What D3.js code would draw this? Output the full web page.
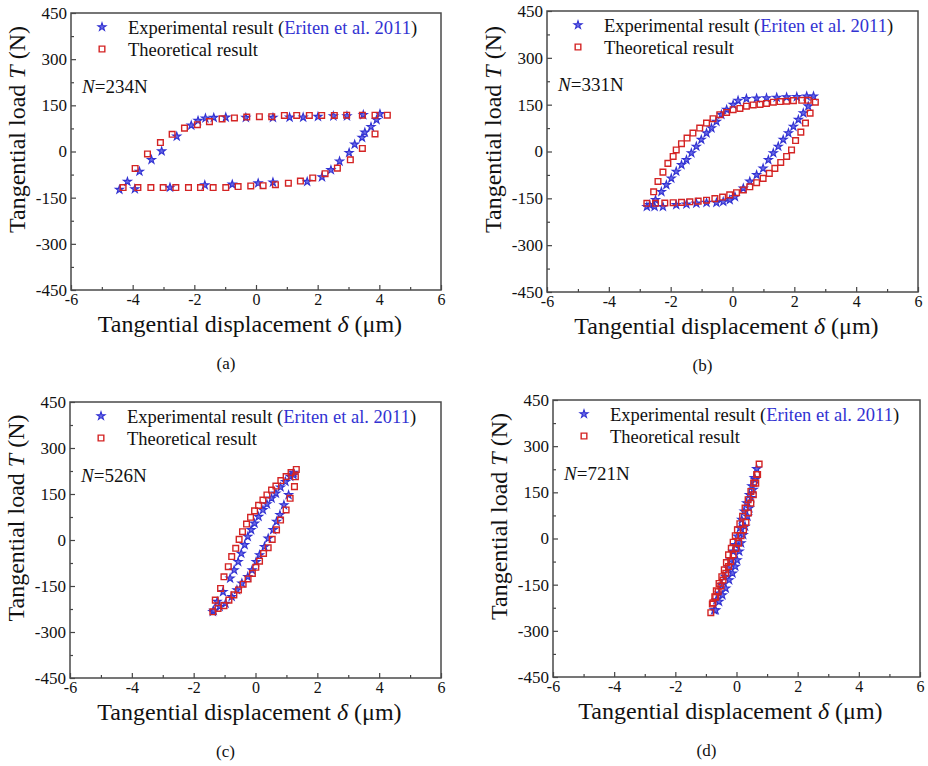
<!DOCTYPE html>
<html>
<head>
<meta charset="utf-8">
<script src="https://cdnjs.cloudflare.com/ajax/libs/d3/7.8.5/d3.min.js"></script>
<style>
body{margin:0;background:#fff;}
text{font-family:"Liberation Serif","Times New Roman",serif;fill:#111;}
</style>
</head>
<body>
<svg id="chart" width="928" height="766"></svg>
<script>
// tick values and labels
var xTicks = [-6,-4,-2,0,2,4,6];
var xMinor = [-5,-3,-1,1,3,5];
var yTicks = [-450,-300,-150,0,150,300,450];
var yMinor = [-375,-225,-75,75,225,375];
var loads = ["234","331","526","721"];
var captions = ["(a)","(b)","(c)","(d)"];

// (a) N=234N
var expA = [[-4.43,-124],[-4.17,-98],[-3.78,-65],[-3.39,-27],[-3.06,1],[-2.57,49],[-2.10,85],[-1.88,100],[-1.64,108],[-1.37,110],[-0.98,111],[-0.33,110],[0.55,110],[1.09,111],[1.53,111],[2.01,113],[2.51,115],[2.95,115],[3.48,119],[4.02,122],
  [3.91,103],[3.73,80],[3.53,62],[3.44,45],[3.20,23],[3.02,-4],[2.71,-32],[2.43,-60],[2.14,-83],[1.66,-98],[0.55,-100],[0.07,-103],[-0.77,-107],[-1.66,-109],[-2.79,-117],[-3.93,-122]];
var theoA = [[-4.31,-117],[-3.83,-117],[-3.41,-117],[-3.01,-117],[-2.60,-117],[-2.19,-117],[-1.80,-117],[-1.39,-117],[-0.98,-117],[-0.58,-114],[-0.17,-112],[0.23,-111],[0.63,-108],[1.05,-103],[1.44,-96],[1.84,-86],[2.24,-72],[2.64,-54],[3.06,-27],[3.45,10],[3.86,57],[4.26,118],
  [3.86,118],[3.45,118],[2.94,118],[2.54,117],[2.13,117],[1.73,117],[1.32,117],[0.92,117],[0.51,113],[0.11,113],[-0.30,112],[-0.70,109],[-1.10,106],[-1.51,97],[-1.90,87],[-2.32,76],[-2.72,56],[-3.10,29],[-3.52,-8],[-3.92,-55]];

// (b) N=331N
var expB = [[-2.77,-177],[-2.52,-177],[-2.25,-177],[-1.82,-171],[-1.49,-169],[-1.17,-166],[-0.84,-164],[-0.52,-164],[-0.30,-161],[-0.09,-155],[0.08,-145],[0.35,-118],[0.56,-96],[0.78,-75],[0.99,-54],[1.16,-27],[1.32,-5],[1.48,16],[1.64,38],[1.81,59],[1.97,80],[2.13,102],[2.29,123],[2.45,145],[2.62,177],
  [2.40,177],[2.08,175],[1.75,174],[1.43,173],[1.10,171],[0.78,170],[0.45,169],[0.18,163],[0.02,150],[-0.19,134],[-0.36,118],[-0.52,96],[-0.68,75],[-0.84,59],[-1.01,38],[-1.17,16],[-1.33,-5],[-1.49,-27],[-1.65,-43],[-1.82,-64],[-1.98,-86],[-2.14,-107],[-2.30,-129],[-2.49,-155],[-2.68,-171]];
var theoB = [[-2.77,-166],[-2.49,-166],[-2.19,-165],[-1.92,-164],[-1.65,-163],[-1.38,-161],[-1.11,-159],[-0.84,-156],[-0.57,-151],[-0.32,-146],[-0.09,-139],[0.13,-132],[0.35,-123],[0.56,-113],[0.78,-100],[0.99,-86],[1.19,-70],[1.37,-54],[1.56,-35],[1.75,-16],[1.91,5],[2.04,35],[2.21,62],[2.36,91],[2.51,123],[2.68,158],
  [2.45,164],[2.24,164],[1.97,163],[1.75,161],[1.54,160],[1.32,158],[1.10,154],[0.89,151],[0.67,149],[0.45,145],[0.24,138],[0.02,134],[-0.19,125],[-0.41,118],[-0.63,105],[-0.84,91],[-1.06,75],[-1.28,59],[-1.47,43],[-1.65,25],[-1.82,5],[-1.92,-16],[-2.09,-38],[-2.25,-66],[-2.41,-96],[-2.55,-129]];

// (c) N=526N
var expC = [[-1.38,-234],[-1.24,-201],[-1.05,-169],[-0.82,-125],[-0.69,-98],[-0.56,-71],[-0.46,-44],[-0.35,-16],[-0.25,11],[-0.14,33],[-0.03,54],[0.10,76],[0.24,98],[0.37,117],[0.52,136],[0.66,152],[0.81,172],[0.97,190],[1.12,207],[1.23,220],
  [1.23,212],[1.07,147],[0.92,114],[0.79,82],[0.68,60],[0.57,33],[0.41,5],[0.29,-22],[0.13,-49],[0.02,-71],[-0.11,-98],[-0.25,-120],[-0.44,-141],[-0.60,-163],[-0.77,-185],[-0.97,-207],[-1.16,-217],[-1.35,-230]];
var theoC = [[-1.38,-234],[-1.30,-196],[-1.13,-158],[-1.02,-120],[-0.88,-87],[-0.77,-54],[-0.64,-27],[-0.53,2],[-0.42,27],[-0.29,52],[-0.16,74],[-0.03,95],[0.10,113],[0.24,130],[0.37,147],[0.52,163],[0.66,176],[0.82,194],[0.99,207],[1.15,220],[1.32,230],
  [1.29,206],[1.26,174],[1.12,136],[0.99,98],[0.81,65],[0.68,33],[0.54,2],[0.41,-25],[0.26,-44],[0.13,-69],[0.01,-89],[-0.10,-109],[-0.24,-127],[-0.40,-144],[-0.55,-163],[-0.70,-179],[-0.86,-196],[-1.02,-214],[-1.21,-223]];

// (d) N=721N
var expD = [[-0.73,-233],[-0.66,-200],[-0.57,-178],[-0.48,-151],[-0.37,-124],[-0.27,-97],[-0.19,-70],[-0.11,-42],[-0.04,-21],[0.03,7],[0.11,34],[0.17,61],[0.25,88],[0.33,115],[0.42,142],[0.50,170],[0.58,197],[0.66,226],
  [0.61,191],[0.55,159],[0.48,132],[0.42,99],[0.36,72],[0.28,39],[0.22,12],[0.15,-15],[0.09,-42],[0.02,-70],[-0.04,-91],[-0.13,-113],[-0.24,-135],[-0.35,-162],[-0.46,-184],[-0.57,-205],[-0.68,-233]];
var theoD = [[-0.84,-241],[-0.79,-213],[-0.71,-189],[-0.66,-170],[-0.57,-146],[-0.48,-124],[-0.40,-102],[-0.33,-78],[-0.26,-53],[-0.17,-32],[-0.11,-12],[-0.04,9],[0.03,28],[0.11,48],[0.20,72],[0.28,99],[0.38,126],[0.47,153],[0.56,180],[0.66,208],[0.74,242],
  [0.69,208],[0.63,180],[0.55,142],[0.47,115],[0.39,83],[0.31,52],[0.23,28],[0.15,9],[0.07,-15],[-0.02,-32],[-0.11,-53],[-0.19,-75],[-0.26,-91],[-0.35,-113],[-0.44,-135],[-0.51,-154],[-0.60,-173],[-0.68,-191],[-0.77,-209]];

var blue = "#3232d2";
var red = "#d42424";

var panels = [
  {x:71, y:13, w:370, h:277, exp:expA, theo:theoA},
  {x:547, y:11, w:371, h:281, exp:expB, theo:theoB},
  {x:70, y:402, w:371, h:276, exp:expC, theo:theoC},
  {x:553, y:400, w:367, h:277, exp:expD, theo:theoD}
];

var svg = d3.select("#chart");
var star = d3.symbol().type(d3.symbolStar).size(20);
var square = d3.symbol().type(d3.symbolSquare).size(32);

var drawPanel = function(p, i)
{
    var g = svg.append("g").attr("transform","translate("+p.x+","+p.y+")");
    var xScale = d3.scaleLinear().domain([-6,6]).range([0,p.w]);
    var yScale = d3.scaleLinear().domain([-450,450]).range([p.h,0]);

    var xAxis = d3.axisBottom(xScale).tickValues(xTicks).tickSize(-5).tickPadding(4)
        .tickFormat(function(d){return String(d);});
    var xAxisMinor = d3.axisBottom(xScale).tickValues(xMinor).tickSize(-3).tickFormat("");
    var yAxis = d3.axisLeft(yScale).tickValues(yTicks).tickSize(-5).tickPadding(4)
        .tickFormat(function(d){return String(d);});
    var yAxisMinor = d3.axisLeft(yScale).tickValues(yMinor).tickSize(-3).tickFormat("");

    [xAxis, xAxisMinor].forEach(function(ax){
        g.append("g").attr("class","axis xax").attr("transform","translate(0,"+p.h+")").call(ax);
    });
    [yAxis, yAxisMinor].forEach(function(ax){
        g.append("g").attr("class","axis").call(ax);
    });
    g.selectAll(".axis .domain").remove();
    g.selectAll(".axis line").attr("stroke","#444").attr("stroke-width",1.2);
    g.selectAll(".axis text").attr("font-size",17).attr("fill","#222");
    g.selectAll(".xax text").attr("font-size",16);

    g.append("rect")
        .attr("width",p.w).attr("height",p.h)
        .attr("fill","none").attr("stroke","#4a4a4a").attr("stroke-width",1.5);

    // experimental stars
    g.append("g").selectAll("path")
        .data(p.exp).enter().append("path")
        .attr("d",star)
        .attr("transform",function(d){return "translate("+xScale(d[0])+","+yScale(d[1])+")";})
        .attr("fill","#6a6ae6").attr("stroke",blue).attr("stroke-width",1.1);

    // theoretical squares
    g.append("g").selectAll("path")
        .data(p.theo).enter().append("path")
        .attr("d",square)
        .attr("transform",function(d){return "translate("+xScale(d[0])+","+yScale(d[1])+")";})
        .attr("fill","none").attr("stroke",red).attr("stroke-width",1.4);

    // legend
    g.append("path").attr("d",star).attr("transform","translate(31,14)")
        .attr("fill","#6a6ae6").attr("stroke",blue).attr("stroke-width",1.1);
    g.append("path").attr("d",square).attr("transform","translate(31,36)")
        .attr("fill","none").attr("stroke",red).attr("stroke-width",1.4);
    var t1 = g.append("text").attr("x",57).attr("y",21).attr("font-size",18.5);
    t1.append("tspan").text("Experimental result (");
    t1.append("tspan").attr("fill",blue).text("Eriten et al. 2011");
    t1.append("tspan").text(")");
    g.append("text").attr("x",57).attr("y",43).attr("font-size",18.5).text("Theoretical result");

    var nl = g.append("text").attr("x",11).attr("y",80).attr("font-size",19);
    nl.append("tspan").attr("font-style","italic").text("N");
    nl.append("tspan").text("="+loads[i]+"N");

    // axis titles
    var yl = g.append("text")
        .attr("text-anchor","middle")
        .attr("transform","translate(-46,"+(p.h/2-22)+") rotate(-90)")
        .attr("font-size",24);
    yl.append("tspan").text("Tangential load ");
    yl.append("tspan").attr("font-style","italic").text("T");
    yl.append("tspan").text(" (N)");

    var xl = g.append("text")
        .attr("text-anchor","middle")
        .attr("x",p.w/2-6).attr("y",p.h+42)
        .attr("font-size",24);
    xl.append("tspan").text("Tangential displacement ");
    xl.append("tspan").attr("font-style","italic").text("\u03b4");
    xl.append("tspan").text(" (\u03bcm)");

    g.append("text")
        .attr("text-anchor","middle")
        .attr("x",p.w/2-30).attr("y",p.h+79)
        .attr("font-size",17)
        .text(captions[i]);
}

panels.forEach(drawPanel);
</script>
</body>
</html>
